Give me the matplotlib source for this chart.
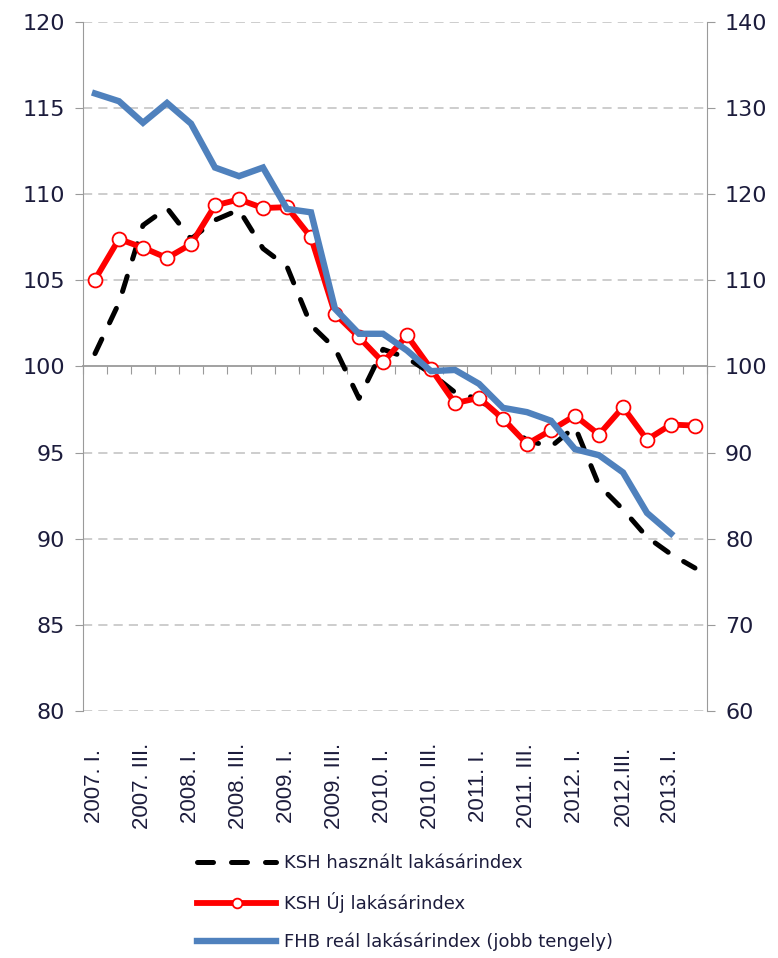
import matplotlib
matplotlib.use("Agg")
import matplotlib.pyplot as plt
import matplotlib.transforms as mtransforms
import numpy as np

plt.rcParams['font.family'] = ['DejaVu Sans']

# ---- data ----
tick_labels = ['2007. I.', '2007. III.', '2008. I.', '2008. III.', '2009. I.',
               '2009. III.', '2010. I.', '2010. III.', '2011. I.', '2011. III.',
               '2012. I.', '2012.III.', '2013. I.']
n_quarters = 26

ksh_hasznalt = [100.75, 103.7, 108.2, 109.2, 107.4, 108.5, 109.1, 106.85, 105.8,
                102.4, 101.05, 98.15, 101.0, 100.5, 99.6, 98.5, 98.1, 96.9, 95.7,
                95.35, 96.5, 93.1, 91.7, 90.1, 89.1, 88.3]
ksh_uj = [105.05, 107.4, 106.9, 106.3, 107.1, 109.35, 109.7, 109.2, 109.25, 107.5,
          103.06, 101.7, 100.25, 101.8, 99.87, 97.87, 98.18, 96.96, 95.5, 96.3,
          97.15, 96.05, 97.64, 95.75, 96.63, 96.57]
fhb_real = [131.7, 130.8, 128.3, 130.6, 128.2, 123.1, 122.1, 123.1, 118.3, 117.9,
            106.7, 103.8, 103.8, 101.86, 99.46, 99.6, 97.99, 95.2, 94.7, 93.7,
            90.4, 89.7, 87.7, 83.0, 80.6]

series_names = ['KSH használt lakásárindex', 'KSH Új lakásárindex',
                'FHB reál lakásárindex (jobb tengely)']

# ---- style ----
text_col = '#1c1c3c'
axis_col = '#9a9a9a'
grid_col = '#c0c0c0'
blue = '#4f81bd'
red = '#ff0000'

fig = plt.figure(figsize=(7.78, 9.58), dpi=100)
ax = fig.add_axes([83/778, 1 - 711/958, (707 - 83)/778, (711 - 22)/958])
ax2 = ax.twinx()

x = np.arange(n_quarters)

# left axis
ax.set_xlim(-0.5, n_quarters - 0.5)
ax.set_ylim(80, 120)
ax.set_yticks(np.arange(80, 121, 5))
for v in np.arange(80, 121, 5):
    if v != 100:
        ax.axhline(v, color=grid_col, lw=1.1, ls=(0, (6, 4)), zorder=0)

ax.spines['top'].set_visible(False)
ax.spines['right'].set_visible(False)
ax.spines['left'].set_color(axis_col)
ax.spines['bottom'].set_position(('data', 100))
ax.spines['bottom'].set_color(axis_col)
ax.spines['bottom'].set_linewidth(1.3)
ax.tick_params(axis='y', direction='out', length=6, color=axis_col,
               labelsize=16, labelcolor=text_col, pad=7)
ax.set_xticks(np.arange(-0.5, n_quarters, 1.0))
ax.tick_params(axis='x', direction='out', length=6, color=axis_col,
               labelbottom=False)

# right axis
ax2.set_ylim(60, 140)
ax2.set_yticks(np.arange(60, 141, 10))
for s in ['top', 'left', 'bottom']:
    ax2.spines[s].set_visible(False)
ax2.spines['right'].set_color(axis_col)
ax2.tick_params(axis='y', direction='out', length=6, color=axis_col,
                labelsize=16, labelcolor=text_col, pad=7)

# series
l_black, = ax.plot(x, ksh_hasznalt, color='black', lw=3.6,
                   ls=(0, (3.2, 3.6)), dash_capstyle='round', zorder=3)
l_red, = ax.plot(x, ksh_uj, color=red, lw=4.2, marker='o', markersize=10,
                 markerfacecolor='white', markeredgecolor=red,
                 markeredgewidth=1.3, zorder=4)
l_blue, = ax2.plot(np.arange(len(fhb_real)), fhb_real, color=blue, lw=4.6,
                   solid_joinstyle='miter', zorder=5)
ax2.set_zorder(ax.get_zorder() + 1)
ax2.patch.set_visible(False)

# category labels (every second quarter)
trans = mtransforms.blended_transform_factory(ax.transData, fig.transFigure)
for k, lab in enumerate(tick_labels):
    ax.text(2 * k, 1 - 786/958, lab, transform=trans, rotation=90,
            ha='center', va='center', fontsize=16, color=text_col,
            family=['Liberation Sans', 'DejaVu Sans'])

# legend
fig.legend([l_black, l_red, l_blue], series_names, loc='upper left',
           bbox_to_anchor=(197/778, 1 - 854/958), frameon=False,
           fontsize=13, handlelength=4.4, handletextpad=0.4,
           labelspacing=1.1, numpoints=1, markerscale=0.7,
           labelcolor=text_col, borderpad=0, borderaxespad=0)

fig.savefig('out.png', dpi=100)
